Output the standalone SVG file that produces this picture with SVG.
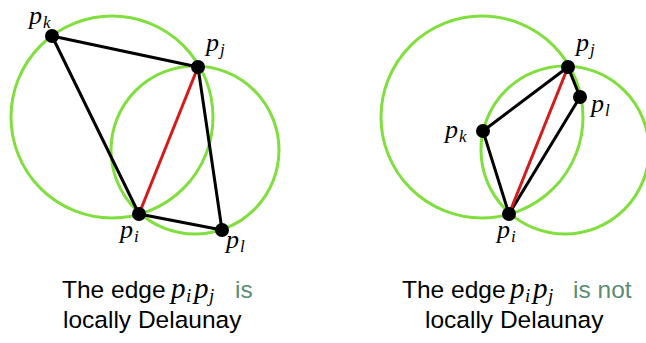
<svg xmlns="http://www.w3.org/2000/svg" width="646" height="343" viewBox="0 0 646 343">
<style>
.cc{fill:none;stroke:#80df3e;stroke-width:3}
.e{stroke:#000;stroke-width:3;stroke-linecap:round}
.r{stroke:#d41a1a;stroke-width:3}
.dot{fill:#000}
.m{font-family:"Liberation Serif","DejaVu Serif",serif;font-style:italic;font-size:26px;fill:#000}
.s{font-size:17px}
.bm{font-family:"Liberation Serif","DejaVu Serif",serif;font-style:italic;font-size:29px;fill:#000}
.bs{font-size:19px}
.t{font-family:"Liberation Sans",Arial,sans-serif;font-size:24.5px;fill:#000}
.g{fill:#5b8c74}
</style>
<rect width="646" height="343" fill="#fff"/>
<g id="circles">
<circle class="cc" cx="112" cy="117" r="101"/>
<circle class="cc" cx="195" cy="150" r="84"/>
<circle class="cc" cx="482" cy="117" r="101"/>
<circle class="cc" cx="565" cy="150" r="84"/>
</g>
<g id="connectors">
<line class="e" x1="52" y1="36" x2="198" y2="67"/>
<line class="e" x1="52" y1="36" x2="139" y2="214"/>
<line class="e" x1="139" y1="214" x2="222" y2="230"/>
<line class="e" x1="222" y1="230" x2="198" y2="67"/>
<line class="r" x1="139" y1="214" x2="198" y2="67"/>
<line class="e" x1="483" y1="131" x2="568" y2="67"/>
<line class="e" x1="483" y1="131" x2="509" y2="214"/>
<line class="e" x1="509" y1="214" x2="580" y2="97"/>
<line class="e" x1="580" y1="97" x2="568" y2="67"/>
<line class="r" x1="509" y1="214" x2="568" y2="67"/>
</g>
<g id="L_pk"><circle class="dot" cx="52" cy="36" r="7"/><text class="m" x="29" y="24">p<tspan class="s" x="43" y="28">k</tspan></text></g>
<g id="L_pj"><circle class="dot" cx="198" cy="67" r="7"/><text class="m" x="206" y="51">p<tspan class="s" x="220" y="55">j</tspan></text></g>
<g id="L_pi"><circle class="dot" cx="139" cy="214" r="7"/><text class="m" x="120" y="238">p<tspan class="s" x="134" y="242">i</tspan></text></g>
<g id="L_pl"><circle class="dot" cx="222" cy="230" r="7"/><text class="m" x="226" y="248">p<tspan class="s" x="240" y="252">l</tspan></text></g>
<g id="R_pk"><circle class="dot" cx="483" cy="131" r="7"/><text class="m" x="445" y="138">p<tspan class="s" x="459" y="142">k</tspan></text></g>
<g id="R_pj"><circle class="dot" cx="568" cy="67" r="7"/><text class="m" x="576" y="51">p<tspan class="s" x="590" y="55">j</tspan></text></g>
<g id="R_pl"><circle class="dot" cx="580" cy="97" r="7"/><text class="m" x="591" y="112">p<tspan class="s" x="605" y="116">l</tspan></text></g>
<g id="R_pi"><circle class="dot" cx="509" cy="214" r="7"/><text class="m" x="497" y="238">p<tspan class="s" x="511" y="242">i</tspan></text></g>
<g id="caption_left">
<text class="t" x="62" y="298">The edge</text>
<text class="bm" x="171" y="298">p<tspan class="bs" x="186" y="302">i</tspan><tspan x="194" y="298">p</tspan><tspan class="bs" x="209" y="302">j</tspan></text>
<text class="t g" x="235" y="298">is</text>
<text class="t" x="63" y="328">locally Delaunay</text>
</g>
<g id="caption_right">
<text class="t" x="402" y="298">The edge</text>
<text class="bm" x="510" y="298">p<tspan class="bs" x="525" y="302">i</tspan><tspan x="533" y="298">p</tspan><tspan class="bs" x="548" y="302">j</tspan></text>
<text class="t g" x="573" y="298">is not</text>
<text class="t" x="425" y="328">locally Delaunay</text>
</g>
</svg>
